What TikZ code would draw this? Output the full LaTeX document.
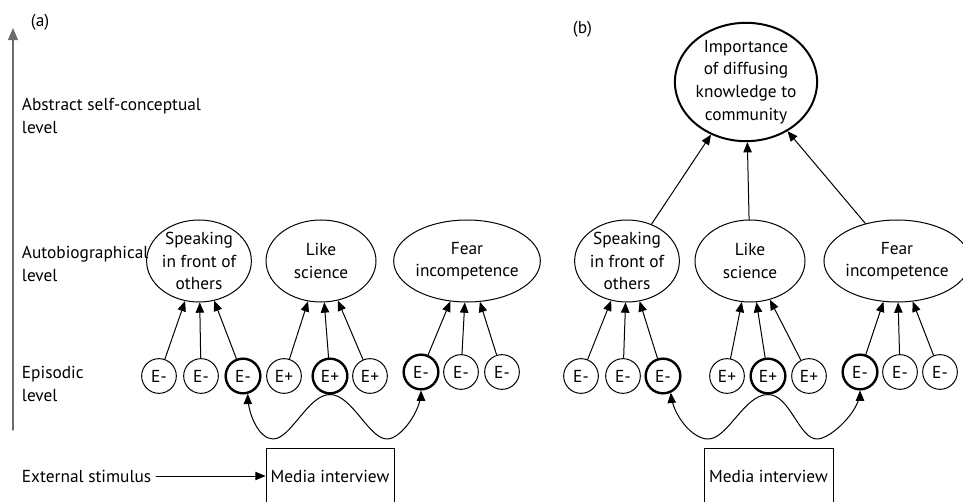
\documentclass[tikz,border=0pt]{standalone}
\usepackage{fontspec}
\setmainfont{PT Sans}
\usetikzlibrary{arrows}
\usetikzlibrary{shapes.geometric}

\tikzset{
  memory/.style={draw, ellipse, inner sep=0pt, minimum height=61.5pt, align=center},
  selfview/.style={memory, line width=1.5pt, minimum width=103.5pt, minimum height=81pt},
  episode/.style={draw, circle, inner sep=0pt, minimum size=26pt},
  cue/.style={episode, line width=1.8pt},
  level/.style={anchor=west, align=left},
  stimbox/.style={draw, minimum height=42pt}
}

\begin{document}
\begin{tikzpicture}[line cap=round,line join=round,>=triangle 45,x=.75pt,y=-.75pt,line width=.75pt,
  every node/.style={font=\fontsize{13}{17}\selectfont}]
\clip (0,0) rectangle (963,502);
% levels
\coordinate (lo) at (13,430);
\coordinate (hi) at (13,28);
\draw[->,color=gray!85!black,line width=1.1pt] (lo) -- (hi);
\node[level] (pa) at (26,22) {(a)};
\node[level] (pb) at (568,29) {(b)};
\node[level] (abs) at (17,116) {Abstract self-conceptual\\level};
\node[level] (auto) at (17,264) {Autobiographical\\level};
\node[level] (epi) at (17,384) {Episodic\\level};
\node[level] (ext) at (17,476) {External stimulus};

% (a)
\node[memory, minimum width=78pt] (as) at (199,261) {Speaking\\in front of\\others};
\node[memory, minimum width=82.5pt] (al) at (321,261) {Like\\science};
\node[memory, minimum width=110pt] (af) at (467,261) {Fear\\incompetence};
\foreach \n/\x/\y/\t/\s in {a1/159/376/E-/episode,a2/201/376/E-/episode,a3/243/376/E-/cue,
  a4/284/376/E+/episode,a5/330/376/E+/cue,a6/370/376/E+/episode,
  a7/421/372/E-/cue,a8/461/372/E-/episode,a9/502/372/E-/episode}
  \node[\s] (\n) at (\x,\y) {\t};
\foreach \e/\m in {a1/as,a2/as,a3/as,a4/al,a5/al,a6/al,a7/af,a8/af,a9/af}
  \draw[->] (\e) -- (\m);
\node[stimbox, minimum width=96pt] (am) at (330,476) {Media interview};
\draw[->] (ext) -- (am);
\coordinate (adl) at (273,439);
\coordinate (adr) at (387,439);
\draw[->] (a5.south) .. controls +(-22,0) and +(18,0) .. (adl) .. controls +(-14,0) and +(0,20) .. (a3.-75);
\draw[->] (a5.south) .. controls +(22,0) and +(-18,0) .. (adr) .. controls +(14,0) and +(0,20) .. (a7.south);

% (b)
\node[selfview] (bi) at (746,82) {Importance\\of diffusing\\knowledge to\\community};
\node[memory, minimum width=76.5pt] (bs) at (627,261) {Speaking\\in front of\\others};
\node[memory, minimum width=82.5pt] (bl) at (750,261) {Like\\science};
\node[memory, minimum width=109.5pt] (bf) at (897,261) {Fear\\incompetence};
\foreach \n/\x/\y/\t/\s in {b1/581/376/E-/episode,b2/623/376/E-/episode,b3/663/376/E-/cue,
  b4/727/376/E+/episode,b5/768/376/E+/cue,b6/809/376/E+/episode,
  b7/860/372/E-/cue,b8/900/372/E-/episode,b9/940/372/E-/episode}
  \node[\s] (\n) at (\x,\y) {\t};
\foreach \e/\m in {b1/bs,b2/bs,b3/bs,b4/bl,b5/bl,b6/bl,b7/bf,b8/bf,b9/bf,bs/bi,bl/bi,bf/bi}
  \draw[->] (\e) -- (\m);
\node[stimbox, minimum width=96.75pt] (bm) at (768.5,476) {Media interview};
\coordinate (bdl) at (708,439);
\coordinate (bdr) at (817,439);
\draw[->] (b5.south) .. controls +(-24,0) and +(20,0) .. (bdl) .. controls +(-16,0) and +(2,22) .. (b3.-65);
\draw[->] (b5.south) .. controls +(22,0) and +(-18,0) .. (bdr) .. controls +(14,0) and +(0,20) .. (b7.south);
\end{tikzpicture}
\end{document}
